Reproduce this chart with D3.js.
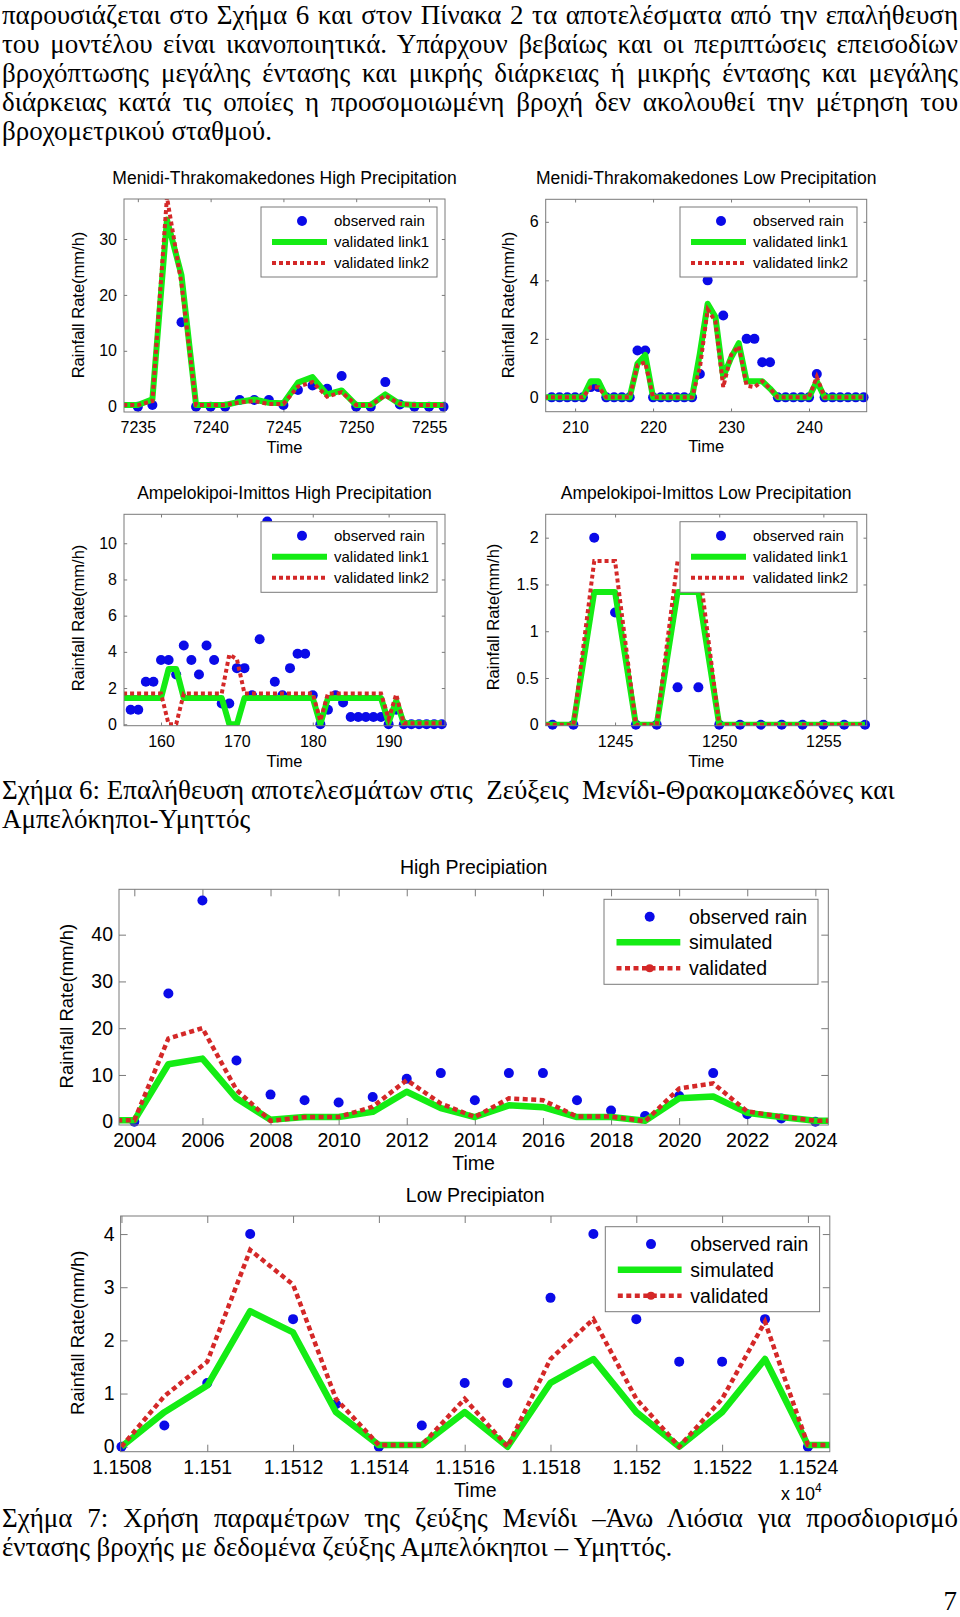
<!DOCTYPE html>
<html><head><meta charset="utf-8">
<script src="https://cdn.jsdelivr.net/npm/d3@7"></script>
<style>
body{margin:0;background:#fff;width:960px;height:1617px;overflow:hidden;}
svg{position:absolute;left:0;top:0;}
</style></head><body>
<svg id="page" width="960" height="1617"></svg>
<script>
// ---------------- DATA ----------------
// Menidi-Thrakomakedones High Precipitation
const mtTime  = [7234,7235,7236,7237,7238,7239,7240,7241,7242,7243,7244,7245,7246,7247,7248,7249,7250,7251,7252,7253,7254,7255,7256];
const mtObs   = [null,0,0.3,null,15.1,0,0,0,1.2,1.2,1.2,0.3,3.0,3.8,3.2,5.5,0,0,4.4,0.4,0,0,0];
const mtLink1 = [0.3,0.3,1.3,33.5,23.5,0.3,0.3,0.3,0.9,1.3,0.7,0.6,4.3,5.3,2.2,2.9,0.3,0.3,2.2,0.5,0.3,0.3,0.3];
const mtLink2 = [0.3,0.3,1.0,37.5,22,0.3,0.3,0.3,0.8,1.0,0.5,0.5,3.6,4.4,1.8,2.6,0.3,0.3,2.0,0.5,0.3,0.3,0.3];
const mtXTicks = [7235,7240,7245,7250,7255];
const mtXLabels = ["7235","7240","7245","7250","7255"];
const mtYTicks = [0,10,20,30];
const mtYLabels = ["0","10","20","30"];

// Menidi-Thrakomakedones Low Precipitation
const mlTime  = [206,207,208,209,210,211,212,213,214,215,216,217,218,219,220,221,222,223,224,225,226,227,228,229,230,231,232,233,234,235,236,237,238,239,240,241,242,243,244,245,246,247];
const mlObs   = [null,0,0,0,0,0,0.35,0.35,0,0,0,0,1.6,1.6,0,0,0,0,0,0,0.8,4.0,null,2.8,null,null,2.0,2.0,1.2,1.2,0,0,0,0,0,0.8,0,0,0,0,0,0];
const mlLink1 = [0,0,0,0,0,0,0.55,0.55,0,0,0,0,1.15,1.45,0,0,0,0,0,0,1.5,3.2,2.75,0.7,1.35,1.85,0.55,0.55,0.55,0.3,0,0,0,0,0,0.55,0,0,0,0,0,0];
const mlLink2 = [0,0,0,0,0,0,0.35,0.35,0,0,0,0,1.1,1.2,0,0,0,0,0,0,1.0,3.0,2.6,0.35,1.45,1.75,0.4,0.35,0.55,0.3,0,0,0,0,0,0.7,0,0,0,0,0,0];
const mlXTicks = [210,220,230,240];
const mlXLabels = ["210","220","230","240"];
const mlYTicks = [0,2,4,6];
const mlYLabels = ["0","2","4","6"];

// Ampelokipoi-Imittos High Precipitation
const ahTime  = [155,156,157,158,159,160,161,162,163,164,165,166,167,168,169,170,171,172,173,174,175,176,177,178,179,180,181,182,183,184,185,186,187,188,189,190,191,192,193,194,195,196,197];
const ahObs   = [null,0.8,0.8,2.35,2.35,3.55,3.55,2.75,4.35,3.55,2.75,4.35,3.55,1.15,1.15,3.1,3.1,1.6,4.7,11.2,2.35,1.6,3.1,3.9,3.9,1.6,0,0.8,1.6,1.2,0.4,0.4,0.4,0.4,0.4,0,0.8,0,0,0,0,0,0];
const ahLink1 = [1.45,1.45,1.45,1.45,1.45,1.45,3.05,3.05,1.45,1.45,1.45,1.45,1.45,1.45,0,0,1.45,1.45,1.45,1.45,1.45,1.45,1.45,1.45,1.45,1.45,0,1.45,1.45,1.45,1.45,1.45,1.45,1.45,1.45,0.1,1.3,0.05,0.05,0.05,0.05,0.05,0.05];
const ahLink2 = [1.7,1.7,1.7,1.7,1.7,1.7,0,0,1.7,1.7,1.7,1.7,1.7,1.7,3.85,3.6,1.7,1.7,1.7,1.7,1.7,1.7,1.7,1.7,1.7,1.7,0.2,1.7,1.7,1.7,1.7,1.7,1.7,1.7,1.7,0.3,1.65,0.05,0.05,0.05,0.05,0.05,0.05];
const ahXTicks = [160,170,180,190];
const ahXLabels = ["160","170","180","190"];
const ahYTicks = [0,2,4,6,8,10];
const ahYLabels = ["0","2","4","6","8","10"];

// Ampelokipoi-Imittos Low Precipitation
const alTime  = [1241,1242,1243,1244,1245,1246,1247,1248,1249,1250,1251,1252,1253,1254,1255,1256,1257];
const alObs   = [null,0,0,2.0,1.2,0,0,0.4,0.4,0,0,0,0,0,0,0,0];
const alLink1 = [0,0,0,1.42,1.42,0,0,1.42,1.42,0,0,0,0,0,0,0,0];
const alLink2 = [0,0,0,1.75,1.75,0,0,1.75,1.75,0,0,0,0,0,0,0,0];
const alXTicks = [1245,1250,1255];
const alXLabels = ["1245","1250","1255"];
const alYTicks = [0,0.5,1,1.5,2];
const alYLabels = ["0","0.5","1","1.5","2"];

// High Precipiation
const hpTime = [2003,2004,2005,2006,2007,2008,2009,2010,2011,2012,2013,2014,2015,2016,2017,2018,2019,2020,2021,2022,2023,2024,2025];
const hpObs  = [null,0,27.4,47.3,13.1,5.8,4.6,4.1,5.3,9.2,10.4,4.6,10.4,10.4,4.6,2.4,1.2,5.5,10.4,1.6,0.7,0,null];
const hpSim  = [0.3,0.3,12.3,13.5,5.0,0.4,1.0,1.0,2.1,6.4,2.9,1.0,3.5,3.1,1.0,1.0,0.2,5.0,5.4,1.9,1.0,0.2,0.2];
const hpVal  = [0.3,0.3,17.8,20.0,6.8,0.2,1.0,1.0,3.2,8.9,3.9,1.0,5.0,4.6,1.1,1.1,0.1,7.1,8.2,2.2,1.1,0.2,0.2];
const hpXTicks = [2004,2006,2008,2010,2012,2014,2016,2018,2020,2022,2024];
const hpXLabels = ["2004","2006","2008","2010","2012","2014","2016","2018","2020","2022","2024"];
const hpYTicks = [0,10,20,30,40];
const hpYLabels = ["0","10","20","30","40"];

// Low Precipiaton
const lpTime = [11508,11509,11510,11511,11512,11513,11514,11515,11516,11517,11518,11519,11520,11521,11522,11523,11524,11525];
const lpObs  = [0,0.4,1.2,4.0,2.4,0.8,0,0.4,1.2,1.2,2.8,4.0,2.4,1.6,1.6,2.4,0,null];
const lpSim  = [0,0.65,1.15,2.55,2.15,0.65,0.03,0.03,0.65,0,1.2,1.65,0.65,0,0.65,1.65,0.03,0.03];
const lpVal  = [0,0.95,1.6,3.7,3.05,0.9,0.03,0.03,0.9,0,1.65,2.4,0.9,0,0.9,2.35,0.03,0.03];
const lpXTicks = [11508,11510,11512,11514,11516,11518,11520,11522,11524];
const lpXLabels = ["1.1508","1.151","1.1512","1.1514","1.1516","1.1518","1.152","1.1522","1.1524"];
const lpYTicks = [0,1,2,3,4];
const lpYLabels = ["0","1","2","3","4"];

const namesLink = ["observed rain","validated link1","validated link2"];
const namesSim  = ["observed rain","simulated","validated"];

// ---------------- STYLE ----------------
const SANS = "'Liberation Sans', Arial, sans-serif";
const SERIF = "'Liberation Serif', 'Times New Roman', serif";
const AXIS = "#7a7a7a";
const BLUE = "#0a0ae8";
const GREEN = "#14ec14";
const RED = "#d42828";

const svg = d3.select("#page");
const defs = svg.append("defs");

const smallLegend = {rowY:[14,35,56], s0:11, s1:66, m:41, tx:73, font:15, dotR:5};
const bigLegend = {rowY:[17.4,43,69], s0:12.5, s1:76.3, m:45.7, tx:85, font:19.5, dotR:5, valDot:true};
const smallFonts = {title:17.5, tick:16, label:16.5, time:16.5, tickLen:3.2, xPad:9.5, yPad:7, green:6, red:4, dash:"4,3"};
const bigFonts = {title:19.5, tick:19.5, label:18.5, time:19.5, tickLen:7, xPad:8.5, yPad:6, green:6.5, red:4.5, dash:"5,3.5"};

function drawChart(c) {
  const f = c.fonts;
  const x = d3.scaleLinear().domain(c.xDomain).range([c.left, c.right]);
  const y = d3.scaleLinear().domain(c.yDomain).range([c.bottom, c.top]);
  const g = svg.append("g");
  const clipId = "clip-" + c.id;
  defs.append("clipPath").attr("id", clipId).append("rect")
    .attr("x", c.left).attr("y", c.top).attr("width", c.right - c.left).attr("height", c.bottom - c.top);

  g.append("rect").attr("x", c.left).attr("y", c.top).attr("width", c.right - c.left).attr("height", c.bottom - c.top)
    .attr("fill", "#fff");

  const ax = (axis, tr) => g.append("g").attr("transform", tr).call(axis)
    .call(s => s.select(".domain").remove())
    .call(s => s.selectAll(".tick line").attr("stroke", AXIS))
    .call(s => s.selectAll("text").attr("font-family", SANS).attr("font-size", f.tick).attr("fill", "#000"));
  const blank = () => "";
  ax(d3.axisBottom(x).tickValues(c.xTicks).tickFormat((d, i) => c.xLabels[i]).tickSizeInner(-f.tickLen).tickSizeOuter(0).tickPadding(f.xPad), `translate(0,${c.bottom})`);
  ax(d3.axisTop(x).tickValues(c.xTicks).tickFormat(blank).tickSizeInner(-f.tickLen).tickSizeOuter(0), `translate(0,${c.top})`);
  ax(d3.axisLeft(y).tickValues(c.yTicks).tickFormat((d, i) => c.yLabels[i]).tickSizeInner(-f.tickLen).tickSizeOuter(0).tickPadding(f.yPad), `translate(${c.left},0)`);
  ax(d3.axisRight(y).tickValues(c.yTicks).tickFormat(blank).tickSizeInner(-f.tickLen).tickSizeOuter(0), `translate(${c.right},0)`);

  const pts = c.time.map((t, i) => ({t, v: c.obs[i]})).filter(d => d.v !== null);
  g.append("g").selectAll("circle").data(pts).join("circle")
    .attr("cx", d => x(d.t)).attr("cy", d => y(d.v)).attr("r", 5).attr("fill", BLUE);

  const line = d3.line().x(d => x(d.t)).y(d => y(d.v));
  const s1 = c.time.map((t, i) => ({t, v: c.s1[i]}));
  const s2 = c.time.map((t, i) => ({t, v: c.s2[i]}));
  g.append("path").attr("d", line(s1)).attr("fill", "none").attr("stroke", GREEN)
    .attr("stroke-width", f.green).attr("stroke-linejoin", "round").attr("clip-path", `url(#${clipId})`);
  g.append("path").attr("d", line(s2)).attr("fill", "none").attr("stroke", RED)
    .attr("stroke-width", f.red).attr("stroke-dasharray", f.dash).attr("clip-path", `url(#${clipId})`);

  g.append("rect").attr("x", c.left).attr("y", c.top).attr("width", c.right - c.left).attr("height", c.bottom - c.top)
    .attr("fill", "none").attr("stroke", AXIS).attr("stroke-width", 1);

  // titles
  const cx = (c.left + c.right) / 2;
  g.append("text").attr("x", cx).attr("y", c.top - c.titleGap).attr("text-anchor", "middle").attr("dy", "0.35em")
    .attr("font-family", SANS).attr("font-size", f.title).text(c.title);
  g.append("text").attr("x", cx).attr("y", c.bottom + c.timeGap).attr("text-anchor", "middle").attr("dy", "0.35em")
    .attr("font-family", SANS).attr("font-size", f.time).text("Time");
  g.append("text").attr("transform", `translate(${c.ylabX},${(c.top + c.bottom) / 2 + c.ylabShift}) rotate(-90)`)
    .attr("text-anchor", "middle").attr("dy", "0.35em")
    .attr("font-family", SANS).attr("font-size", f.label).text("Rainfall Rate(mm/h)");

  // legend
  const L = c.legend, S = c.legStyle;
  const lg = g.append("g");
  lg.append("rect").attr("x", L.x).attr("y", L.y).attr("width", L.w).attr("height", L.h)
    .attr("fill", "#fff").attr("stroke", AXIS);
  c.names.forEach((nm, i) => {
    const yy = L.y + S.rowY[i];
    if (i === 0) {
      lg.append("circle").attr("cx", L.x + S.m).attr("cy", yy).attr("r", S.dotR).attr("fill", BLUE);
    } else if (i === 1) {
      lg.append("line").attr("x1", L.x + S.s0).attr("x2", L.x + S.s1).attr("y1", yy).attr("y2", yy)
        .attr("stroke", GREEN).attr("stroke-width", f.green);
    } else {
      lg.append("line").attr("x1", L.x + S.s0).attr("x2", L.x + S.s1).attr("y1", yy).attr("y2", yy)
        .attr("stroke", RED).attr("stroke-width", f.red).attr("stroke-dasharray", f.dash);
      if (S.valDot) lg.append("circle").attr("cx", L.x + S.m).attr("cy", yy).attr("r", 4).attr("fill", RED);
    }
    lg.append("text").attr("x", L.x + S.tx).attr("y", yy).attr("dy", "0.35em")
      .attr("font-family", SANS).attr("font-size", S.font).text(nm);
  });
  return {x, y, g};
}

drawChart({id:"p1", fonts:smallFonts, legStyle:smallLegend, title:"Menidi-Thrakomakedones High Precipitation",
  left:124, right:445, top:199, bottom:412, xDomain:[7234.05,7256.1], yDomain:[-0.95,37.16],
  time:mtTime, obs:mtObs, s1:mtLink1, s2:mtLink2, xTicks:mtXTicks, xLabels:mtXLabels, yTicks:mtYTicks, yLabels:mtYLabels,
  names:namesLink, legend:{x:261,y:207,w:176,h:70}, titleGap:21, timeGap:35, ylabX:78, ylabShift:-0.5});
drawChart({id:"p2", fonts:smallFonts, legStyle:smallLegend, title:"Menidi-Thrakomakedones Low Precipitation",
  left:545.7, right:866.7, top:199.3, bottom:411.7, xDomain:[206.23,247.4], yDomain:[-0.49,6.77],
  time:mlTime, obs:mlObs, s1:mlLink1, s2:mlLink2, xTicks:mlXTicks, xLabels:mlXLabels, yTicks:mlYTicks, yLabels:mlYLabels,
  names:namesLink, legend:{x:680,y:207,w:177,h:70}, titleGap:21, timeGap:35, ylabX:508, ylabShift:-0.5});
drawChart({id:"p3", fonts:smallFonts, legStyle:smallLegend, title:"Ampelokipoi-Imittos High Precipitation",
  left:124, right:445, top:514.3, bottom:725.7, xDomain:[155.12,197.43], yDomain:[-0.08,11.6],
  time:ahTime, obs:ahObs, s1:ahLink1, s2:ahLink2, xTicks:ahXTicks, xLabels:ahXLabels, yTicks:ahYTicks, yLabels:ahYLabels,
  names:namesLink, legend:{x:261,y:521.7,w:176,h:70.6}, titleGap:21, timeGap:36, ylabX:78, ylabShift:-2});
drawChart({id:"p4", fonts:smallFonts, legStyle:smallLegend, title:"Ampelokipoi-Imittos Low Precipitation",
  left:545.7, right:866.7, top:514.3, bottom:725.7, xDomain:[1241.67,1257.08], yDomain:[-0.01,2.25],
  time:alTime, obs:alObs, s1:alLink1, s2:alLink2, xTicks:alXTicks, xLabels:alXLabels, yTicks:alYTicks, yLabels:alYLabels,
  names:namesLink, legend:{x:680,y:521.7,w:177,h:70.6}, titleGap:21, timeGap:36, ylabX:493, ylabShift:-3});
drawChart({id:"hp", fonts:bigFonts, legStyle:bigLegend, title:"High Precipiation",
  left:119, right:828.3, top:889.3, bottom:1125, xDomain:[2003.55,2024.38], yDomain:[-0.7,49.7],
  time:hpTime, obs:hpObs, s1:hpSim, s2:hpVal, xTicks:hpXTicks, xLabels:hpXLabels, yTicks:hpYTicks, yLabels:hpYLabels,
  names:namesSim, legend:{x:604,y:899.3,w:214,h:85}, titleGap:22, timeGap:38, ylabX:67, ylabShift:-1});
drawChart({id:"lp", fonts:bigFonts, legStyle:bigLegend, title:"Low Precipiaton",
  left:120.6, right:829.8, top:1216, bottom:1451.7, xDomain:[11507.98,11524.51], yDomain:[-0.094,4.34],
  time:lpTime, obs:lpObs, s1:lpSim, s2:lpVal, xTicks:lpXTicks, xLabels:lpXLabels, yTicks:lpYTicks, yLabels:lpYLabels,
  names:namesSim, legend:{x:605.3,y:1226.7,w:214.3,h:85}, titleGap:21, timeGap:38, ylabX:78, ylabShift:-1});

// exponent label of the lower chart's x axis
const ex = svg.append("text").attr("x", 781).attr("y", 1500).attr("font-family", SANS).attr("font-size", 18);
ex.append("tspan").text("x 10");
ex.append("tspan").attr("dy", -8).attr("font-size", 12).text("4");

// ---------------- BODY TEXT ----------------
const paraLines = [
  "παρουσιάζεται στο Σχήμα 6 και στον Πίνακα 2 τα αποτελέσματα από την επαλήθευση",
  "του μοντέλου είναι ικανοποιητικά. Υπάρχουν βεβαίως και οι περιπτώσεις επεισοδίων",
  "βροχόπτωσης μεγάλης έντασης και μικρής διάρκειας ή μικρής έντασης και μεγάλης",
  "διάρκειας κατά τις οποίες η προσομοιωμένη βροχή δεν ακολουθεί την μέτρηση του",
  "βροχομετρικού σταθμού."
];
const cap6 = ["Σχήμα 6: Επαλήθευση αποτελεσμάτων στις  Ζεύξεις  Μενίδι-Θρακομακεδόνες και", "Αμπελόκηποι-Υμηττός"];
const cap7 = ["Σχήμα 7: Χρήση παραμέτρων της ζεύξης Μενίδι –Άνω Λιόσια για προσδιορισμό",
              "έντασης βροχής με δεδομένα ζεύξης Αμπελόκηποι – Υμηττός."];

// fit body font size so that caption 6 first line spans its measured width
const probe = svg.append("text").attr("font-family", SERIF).attr("font-size", 24)
  .attr("xml:space", "preserve").style("white-space", "pre").text(cap6[0]);
const probeW = probe.node().getComputedTextLength();
probe.remove();
const BODY = 24 * 893 / probeW;

function textLine(str, baseline, justify) {
  const t = svg.append("text").attr("x", 2).attr("y", baseline)
    .attr("font-family", SERIF).attr("font-size", BODY)
    .attr("xml:space", "preserve").style("white-space", "pre").attr("fill", "#000").text(str);
  if (justify) {
    const w = t.node().getComputedTextLength();
    const n = (str.match(/ /g) || []).length;
    t.style("word-spacing", ((956 - w) / n) + "px");
  }
}
const paraBase = [24, 53, 82, 111, 140];
paraLines.forEach((s, i) => textLine(s, paraBase[i], i < 4));
textLine(cap6[0], 799, false);
textLine(cap6[1], 828, false);
textLine(cap7[0], 1527, true);
textLine(cap7[1], 1556, false);
svg.append("text").attr("x", 957).attr("y", 1610).attr("text-anchor", "end")
  .attr("font-family", SERIF).attr("font-size", BODY).text("7");
</script>
</body></html>
